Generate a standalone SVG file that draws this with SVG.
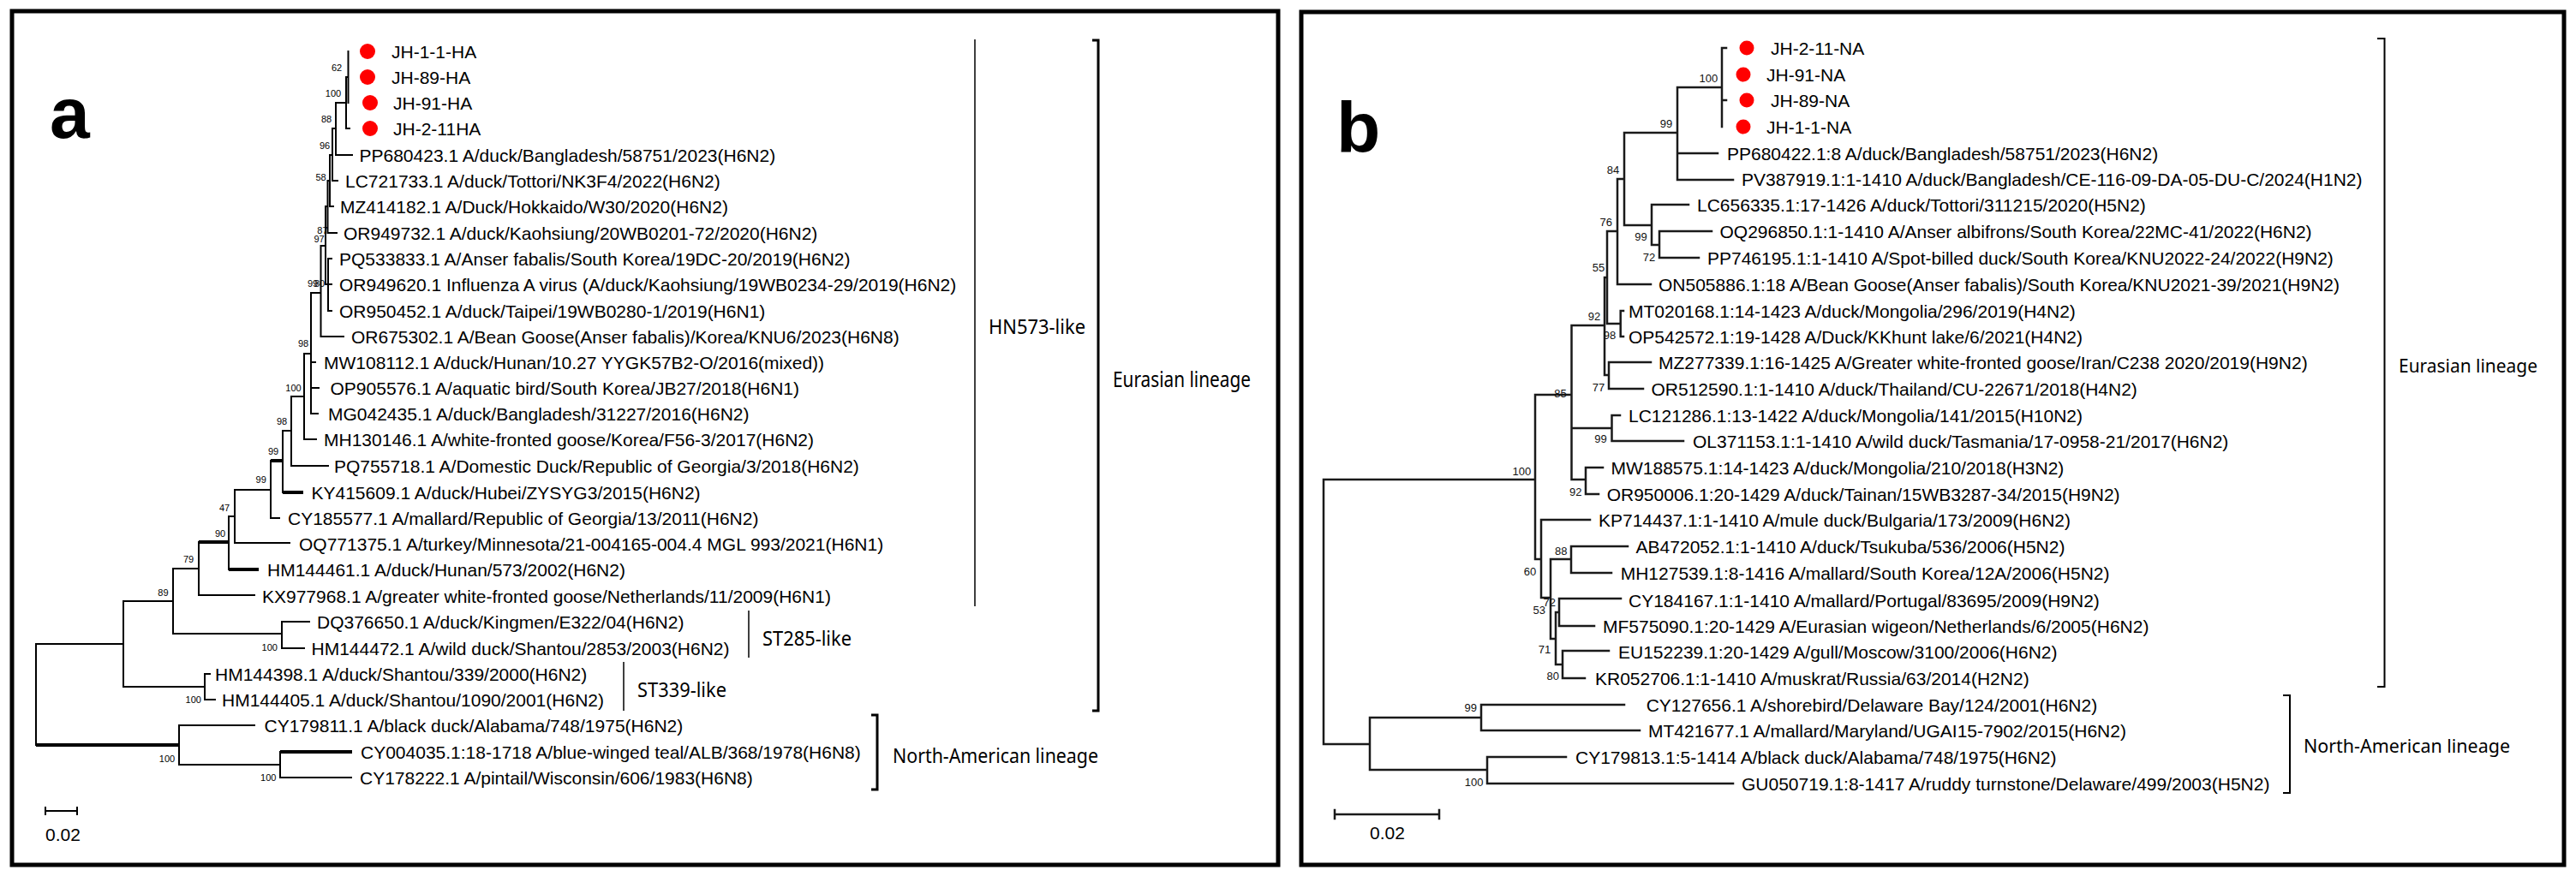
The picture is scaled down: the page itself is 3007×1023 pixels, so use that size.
<svg xmlns="http://www.w3.org/2000/svg" width="3007" height="1023" viewBox="0 0 3007 1023">
<style>
.lf{font-family:"Liberation Sans",Arial,sans-serif;font-size:21px;fill:#000}
.bs{font-family:"Liberation Sans",Arial,sans-serif;font-size:11px;fill:#000;text-anchor:middle}
.bsb{font-family:"Liberation Sans",Arial,sans-serif;font-size:13px;fill:#111;text-anchor:middle}
.lab{font-family:"Noto Sans","Open Sans",sans-serif;fill:#000}
.pl{font-family:"Liberation Sans",Arial,sans-serif;font-weight:bold;font-size:84px;fill:#000}
.ta{fill:none;stroke:#000;stroke-width:2;stroke-linecap:square}
.tk{fill:none;stroke:#000;stroke-width:4;stroke-linecap:butt}
.tb{fill:none;stroke:#1a1a1a;stroke-width:2.5;stroke-linecap:square}
.br{fill:none;stroke:#000;stroke-width:3}
.bt{fill:none;stroke:#000;stroke-width:1.5}
.dot{fill:#ff0000}
.frame{fill:none;stroke:#000;stroke-width:5}
</style>
<rect width="3007" height="1023" fill="#fff"/>
<rect class="frame" x="14" y="13" width="1478" height="997"/>
<rect class="frame" x="1519" y="14" width="1474" height="996"/>
<text class="pl" x="58" y="161">a</text>
<text class="pl" x="1560" y="178">b</text>

<g id="connectors-a">
<path class="ta" d="M42 752V870M42 752H144M144 702V802M144 702H202M202 664V740M202 664H232M232 633V695M267 603V665M267 603H274M274 572V634M274 572H316M316 538V605M330 503V575M330 503H340M340 463V544M340 463H355M355 413V513M355 413H363M363 342V483M363 342H374.5M374.5 287V393M374.5 287H380M380 241V332M380 241H382.5M382.5 211V272M382.5 211H385M385 181V241M385 181H388M388 150V211M388 150H392M392 120V181M392 120H404M404 90V150M404 90H406.5M406.5 60V120M404 150H408M392 181H411M388 211H394M385 241H389M382.5 272H393M380 332H383M383 302V363M383 302H387M383 332H387M383 363H387M374.5 393H401M363 423H368M363 453H372M363 483H371M355 513H369M340 544H383M316 605H326M274 634H338M232 695H297M202 740H329M329 726V757M329 726H361M329 757H355M144 802H239M239 787V817M239 787H245M239 817H251M209 847V893M209 847H297M209 893H327M327 878V908M327 908H410"/>
<path class="tk" d="M232 633H267M316 538H330M330 575H354M267 665H302M42 870H209M327 878H411"/>
</g>

<g id="labels-a">
<text class="bs" x="393" y="83">62</text>
<text class="bs" x="389" y="113">100</text>
<text class="bs" x="381" y="143">88</text>
<text class="bs" x="379" y="174">96</text>
<text class="bs" x="374.5" y="211">58</text>
<text class="bs" x="376.4" y="273">87</text>
<text class="bs" x="372.6" y="283">97</text>
<text class="bs" x="365" y="335">99</text>
<text class="bs" x="373" y="335">80</text>
<text class="bs" x="354" y="405">98</text>
<text class="bs" x="342.5" y="457">100</text>
<text class="bs" x="329" y="496">98</text>
<text class="bs" x="319" y="531">99</text>
<text class="bs" x="304.7" y="564">99</text>
<text class="bs" x="262" y="597">47</text>
<text class="bs" x="257" y="627">90</text>
<text class="bs" x="220" y="657">79</text>
<text class="bs" x="190.4" y="696">89</text>
<text class="bs" x="314.7" y="760">100</text>
<text class="bs" x="225.8" y="821">100</text>
<text class="bs" x="195" y="890">100</text>
<text class="bs" x="313.3" y="912">100</text>
</g>

<g id="a-JH-1-1-HA"><circle class="dot" cx="429" cy="60" r="9"/><text class="lf" x="457" y="67.5">JH-1-1-HA</text></g>
<g id="a-JH-89-HA"><circle class="dot" cx="429" cy="90" r="9"/><text class="lf" x="457" y="97.5">JH-89-HA</text></g>
<g id="a-JH-91-HA"><circle class="dot" cx="432" cy="120" r="9"/><text class="lf" x="459" y="127.5">JH-91-HA</text></g>
<g id="a-JH-2-11HA"><circle class="dot" cx="432" cy="150" r="9"/><text class="lf" x="459" y="157.5">JH-2-11HA</text></g>
<g id="a-PP680423"><text class="lf" x="419.5" y="188.5">PP680423.1 A/duck/Bangladesh/58751/2023(H6N2)</text></g>
<g id="a-LC721733"><text class="lf" x="403" y="218.5">LC721733.1 A/duck/Tottori/NK3F4/2022(H6N2)</text></g>
<g id="a-MZ414182"><text class="lf" x="397" y="248.5">MZ414182.1 A/Duck/Hokkaido/W30/2020(H6N2)</text></g>
<g id="a-OR949732"><text class="lf" x="401" y="279.5">OR949732.1 A/duck/Kaohsiung/20WB0201-72/2020(H6N2)</text></g>
<g id="a-PQ533833"><text class="lf" x="396" y="309.5">PQ533833.1 A/Anser fabalis/South Korea/19DC-20/2019(H6N2)</text></g>
<g id="a-OR949620"><text class="lf" x="396" y="339.5">OR949620.1 Influenza A virus (A/duck/Kaohsiung/19WB0234-29/2019(H6N2)</text></g>
<g id="a-OR950452"><text class="lf" x="396" y="370.5">OR950452.1 A/duck/Taipei/19WB0280-1/2019(H6N1)</text></g>
<g id="a-OR675302"><text class="lf" x="410" y="400.5">OR675302.1 A/Bean Goose(Anser fabalis)/Korea/KNU6/2023(H6N8)</text></g>
<g id="a-MW108112"><text class="lf" x="378" y="430.5">MW108112.1 A/duck/Hunan/10.27 YYGK57B2-O/2016(mixed))</text></g>
<g id="a-OP905576"><text class="lf" x="385.5" y="460.5">OP905576.1 A/aquatic bird/South Korea/JB27/2018(H6N1)</text></g>
<g id="a-MG042435"><text class="lf" x="383" y="490.5">MG042435.1 A/duck/Bangladesh/31227/2016(H6N2)</text></g>
<g id="a-MH130146"><text class="lf" x="378" y="520.5">MH130146.1 A/white-fronted goose/Korea/F56-3/2017(H6N2)</text></g>
<g id="a-PQ755718"><text class="lf" x="390" y="551.5">PQ755718.1 A/Domestic Duck/Republic of Georgia/3/2018(H6N2)</text></g>
<g id="a-KY415609"><text class="lf" x="363.5" y="582.5">KY415609.1 A/duck/Hubei/ZYSYG3/2015(H6N2)</text></g>
<g id="a-CY185577"><text class="lf" x="336" y="612.5">CY185577.1 A/mallard/Republic of Georgia/13/2011(H6N2)</text></g>
<g id="a-OQ771375"><text class="lf" x="349" y="642.5">OQ771375.1 A/turkey/Minnesota/21-004165-004.4 MGL 993/2021(H6N1)</text></g>
<g id="a-HM144461"><text class="lf" x="312" y="672.5">HM144461.1 A/duck/Hunan/573/2002(H6N2)</text></g>
<g id="a-KX977968"><text class="lf" x="306" y="703.5">KX977968.1 A/greater white-fronted goose/Netherlands/11/2009(H6N1)</text></g>
<g id="a-DQ376650"><text class="lf" x="370" y="733.5">DQ376650.1 A/duck/Kingmen/E322/04(H6N2)</text></g>
<g id="a-HM144472"><text class="lf" x="363.5" y="764.5">HM144472.1 A/wild duck/Shantou/2853/2003(H6N2)</text></g>
<g id="a-HM144398"><text class="lf" x="251" y="794.5">HM144398.1 A/duck/Shantou/339/2000(H6N2)</text></g>
<g id="a-HM144405"><text class="lf" x="259" y="824.5">HM144405.1 A/duck/Shantou/1090/2001(H6N2)</text></g>
<g id="a-CY179811"><text class="lf" x="308.5" y="854.5">CY179811.1 A/black duck/Alabama/748/1975(H6N2)</text></g>
<g id="a-CY004035"><text class="lf" x="421" y="885.5">CY004035.1:18-1718 A/blue-winged teal/ALB/368/1978(H6N8)</text></g>
<g id="a-CY178222"><text class="lf" x="420" y="915.5">CY178222.1 A/pintail/Wisconsin/606/1983(H6N8)</text></g>

<g id="clades-a">
<path class="bt" d="M1138 46V708M874 713V768M728 773V830"/>
<path class="br" d="M1275 47H1282V830H1275M1017 835H1024V922H1017"/>
<text class="lab" x="1154" y="390" font-size="24" textLength="113" lengthAdjust="spacingAndGlyphs">HN573-like</text>
<text class="lab" x="1299" y="452" font-size="25" textLength="161" lengthAdjust="spacingAndGlyphs">Eurasian lineage</text>
<text class="lab" x="890" y="754" font-size="24" textLength="104" lengthAdjust="spacingAndGlyphs">ST285-like</text>
<text class="lab" x="744" y="814" font-size="24" textLength="104" lengthAdjust="spacingAndGlyphs">ST339-like</text>
<text class="lab" x="1042" y="891" font-size="24" textLength="240" lengthAdjust="spacingAndGlyphs">North-American lineage</text>
</g>
<g id="scale-a">
<path class="ta" d="M53 947H90M53 943V951M90 943V951"/>
<text class="lf" x="53" y="982" font-size="19">0.02</text>
</g>

<g id="connectors-b">
<path class="tb" d="M2010 56V148M2010 56H2015M2010 117H2015M1958 102H2010M1958 102V210M1958 179H2005M1958 210H2023M1896 155H1958M1896 155V263M1896 263H1928M1928 239V286M1928 239H1971M1928 286H1937M1937 270V301M1937 270H1998M1937 301H1983M1888 209H1896M1888 209V332M1888 332H1927M1876 270H1888M1876 270V378M1876 378H1891.7M1891.7 363V393M1891.7 363H1895M1891.7 393H1895M1873 324H1876M1873 324V438M1873 438H1878M1878 423V454M1878 423H1927M1878 454H1918M1834.5 380H1873M1834.5 380V560M1834.5 500H1881.5M1881.5 485V515M1881.5 485H1891M1881.5 515H1965M1834.5 560H1851M1851 546V577M1851 546H1871M1851 577H1866M1792 461H1834.5M1792 461V653M1545 560H1792M1792 653H1799M1799 607V698M1799 607H1856M1799 698H1810M1810 653V746M1810 653H1834M1834 638V669M1834 638H1900M1834 669H1881M1810 746H1816M1816 715V776M1816 715H1820M1820 699V731M1820 699H1892M1820 731H1861M1816 776H1824M1824 760V792M1824 760H1878M1824 792H1850M1545 560V869M1545 869H1599M1599 838V899M1599 838H1729M1729 823V853M1729 823H1896M1729 853H1914M1599 899H1736M1736 884V915M1736 884H1828M1736 915H2023"/>
</g>

<g id="labels-b">
<text class="bsb" x="1994.4" y="96">100</text>
<text class="bsb" x="1945" y="149">99</text>
<text class="bsb" x="1883" y="203">84</text>
<text class="bsb" x="1874.7" y="264">76</text>
<text class="bsb" x="1915.4" y="281">99</text>
<text class="bsb" x="1925" y="305">72</text>
<text class="bsb" x="1866" y="317">55</text>
<text class="bsb" x="1861" y="374">92</text>
<text class="bsb" x="1879" y="396">98</text>
<text class="bsb" x="1866" y="457">77</text>
<text class="bsb" x="1821.4" y="464">85</text>
<text class="bsb" x="1868.4" y="517">99</text>
<text class="bsb" x="1776.3" y="555">100</text>
<text class="bsb" x="1839.3" y="579">92</text>
<text class="bsb" x="1822.3" y="648">88</text>
<text class="bsb" x="1786" y="672">60</text>
<text class="bsb" x="1808.8" y="708">72</text>
<text class="bsb" x="1796.7" y="717">53</text>
<text class="bsb" x="1803" y="763">71</text>
<text class="bsb" x="1812.7" y="794">80</text>
<text class="bsb" x="1716.7" y="831">99</text>
<text class="bsb" x="1720.6" y="918">100</text>
</g>

<g id="b-JH-2-11-NA"><circle class="dot" cx="2039" cy="56" r="8.5"/><text class="lf" x="2067" y="63.5">JH-2-11-NA</text></g>
<g id="b-JH-91-NA"><circle class="dot" cx="2035" cy="87" r="8.5"/><text class="lf" x="2062" y="94.5">JH-91-NA</text></g>
<g id="b-JH-89-NA"><circle class="dot" cx="2039" cy="117" r="8.5"/><text class="lf" x="2067" y="124.5">JH-89-NA</text></g>
<g id="b-JH-1-1-NA"><circle class="dot" cx="2035" cy="148" r="8.5"/><text class="lf" x="2062" y="155.5">JH-1-1-NA</text></g>
<g id="b-PP680422"><text class="lf" x="2016" y="186.5">PP680422.1:8 A/duck/Bangladesh/58751/2023(H6N2)</text></g>
<g id="b-PV387919"><text class="lf" x="2033" y="216.5">PV387919.1:1-1410 A/duck/Bangladesh/CE-116-09-DA-05-DU-C/2024(H1N2)</text></g>
<g id="b-LC656335"><text class="lf" x="1981" y="246.5">LC656335.1:17-1426 A/duck/Tottori/311215/2020(H5N2)</text></g>
<g id="b-OQ296850"><text class="lf" x="2007.5" y="277.5">OQ296850.1:1-1410 A/Anser albifrons/South Korea/22MC-41/2022(H6N2)</text></g>
<g id="b-PP746195"><text class="lf" x="1993" y="308.5">PP746195.1:1-1410 A/Spot-billed duck/South Korea/KNU2022-24/2022(H9N2)</text></g>
<g id="b-ON505886"><text class="lf" x="1936" y="339.5">ON505886.1:18 A/Bean Goose(Anser fabalis)/South Korea/KNU2021-39/2021(H9N2)</text></g>
<g id="b-MT020168"><text class="lf" x="1901" y="370.5">MT020168.1:14-1423 A/duck/Mongolia/296/2019(H4N2)</text></g>
<g id="b-OP542572"><text class="lf" x="1901" y="400.5">OP542572.1:19-1428 A/Duck/KKhunt lake/6/2021(H4N2)</text></g>
<g id="b-MZ277339"><text class="lf" x="1936" y="430.5">MZ277339.1:16-1425 A/Greater white-fronted goose/Iran/C238 2020/2019(H9N2)</text></g>
<g id="b-OR512590"><text class="lf" x="1927.5" y="461.5">OR512590.1:1-1410 A/duck/Thailand/CU-22671/2018(H4N2)</text></g>
<g id="b-LC121286"><text class="lf" x="1901" y="492.5">LC121286.1:13-1422 A/duck/Mongolia/141/2015(H10N2)</text></g>
<g id="b-OL371153"><text class="lf" x="1976" y="522.5">OL371153.1:1-1410 A/wild duck/Tasmania/17-0958-21/2017(H6N2)</text></g>
<g id="b-MW188575"><text class="lf" x="1880.5" y="553.5">MW188575.1:14-1423 A/duck/Mongolia/210/2018(H3N2)</text></g>
<g id="b-OR950006"><text class="lf" x="1875.7" y="584.5">OR950006.1:20-1429 A/duck/Tainan/15WB3287-34/2015(H9N2)</text></g>
<g id="b-KP714437"><text class="lf" x="1866" y="614.5">KP714437.1:1-1410 A/mule duck/Bulgaria/173/2009(H6N2)</text></g>
<g id="b-AB472052"><text class="lf" x="1909.6" y="645.5">AB472052.1:1-1410 A/duck/Tsukuba/536/2006(H5N2)</text></g>
<g id="b-MH127539"><text class="lf" x="1891.7" y="676.5">MH127539.1:8-1416 A/mallard/South Korea/12A/2006(H5N2)</text></g>
<g id="b-CY184167"><text class="lf" x="1901" y="708.5">CY184167.1:1-1410 A/mallard/Portugal/83695/2009(H9N2)</text></g>
<g id="b-MF575090"><text class="lf" x="1871" y="738.5">MF575090.1:20-1429 A/Eurasian wigeon/Netherlands/6/2005(H6N2)</text></g>
<g id="b-EU152239"><text class="lf" x="1889" y="768.5">EU152239.1:20-1429 A/gull/Moscow/3100/2006(H6N2)</text></g>
<g id="b-KR052706"><text class="lf" x="1862" y="799.5">KR052706.1:1-1410 A/muskrat/Russia/63/2014(H2N2)</text></g>
<g id="b-CY127656"><text class="lf" x="1921.7" y="830.5">CY127656.1 A/shorebird/Delaware Bay/124/2001(H6N2)</text></g>
<g id="b-MT421677"><text class="lf" x="1924" y="860.5">MT421677.1 A/mallard/Maryland/UGAI15-7902/2015(H6N2)</text></g>
<g id="b-CY179813"><text class="lf" x="1839" y="891.5">CY179813.1:5-1414 A/black duck/Alabama/748/1975(H6N2)</text></g>
<g id="b-GU050719"><text class="lf" x="2033" y="922.5">GU050719.1:8-1417 A/ruddy turnstone/Delaware/499/2003(H5N2)</text></g>

<g id="clades-b">
<path class="ta" d="M2776 45H2783.5V802H2776M2666 812H2673V926H2666"/>
<text class="lab" x="2800" y="435" font-size="22" textLength="162" lengthAdjust="spacingAndGlyphs">Eurasian lineage</text>
<text class="lab" x="2689" y="879" font-size="22" textLength="241" lengthAdjust="spacingAndGlyphs">North-American lineage</text>
</g>
<g id="scale-b">
<path class="tb" d="M1558 951H1680M1558 946V956M1680 946V956"/>
<text class="lf" x="1599" y="980" font-size="20">0.02</text>
</g>
</svg>
